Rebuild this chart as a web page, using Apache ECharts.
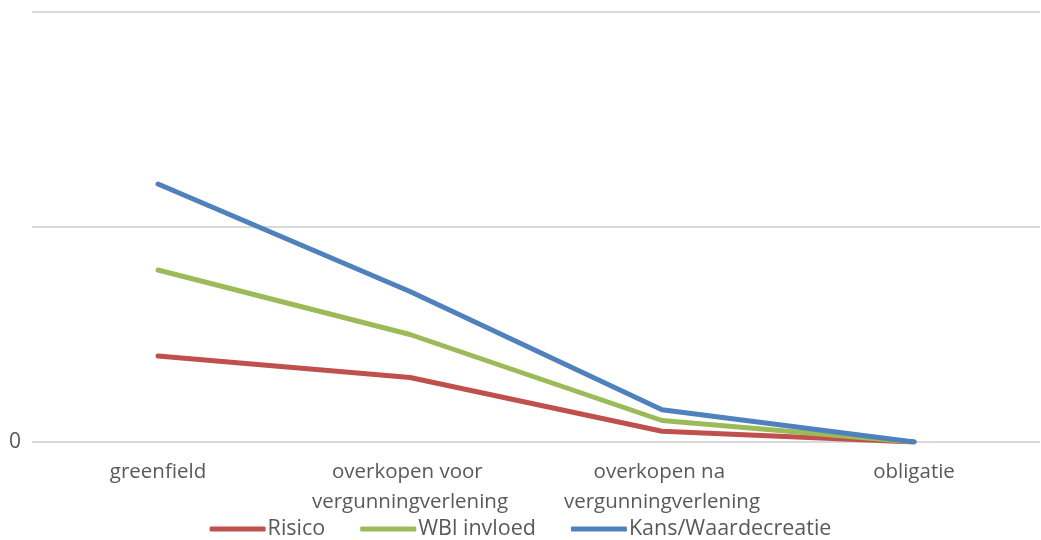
<!DOCTYPE html>
<html>
<head>
<meta charset="utf-8">
<script src="https://cdn.jsdelivr.net/npm/echarts@6/dist/echarts.min.js"></script>
<style>
  html, body { margin: 0; padding: 0; background: #fff; }
  #chart { width: 1041px; height: 540px; }
</style>
</head>
<body>
<div id="chart"></div>
<script>
const categories = ['greenfield', 'overkopen voor vergunningverlening', 'overkopen na vergunningverlening', 'obligatie'];
const risico = [4, 3, 0.5, 0];
const wbiInvloed = [8, 5, 1, 0];
const kansWaardecreatie = [12, 7, 1.5, 0];

const chart = echarts.init(document.getElementById('chart'));
const font = '"Open Sans", sans-serif';
const lineSeries = (name, data, color) => ({
  name, type: 'line', data,
  symbol: 'none',
  lineStyle: { width: 5, color, cap: 'round', join: 'round' },
  itemStyle: { color }
});

chart.setOption({
  animation: false,
  grid: { left: 32, right: 1, top: 12, bottom: 98 },
  legend: {
    bottom: -5,
    left: 'center',
    itemWidth: 56,
    itemHeight: 5,
    itemGap: 35,
    icon: 'roundRect',
    textStyle: { fontFamily: font, fontSize: 21.5, color: '#595959', padding: [0, 0, 0, -3] },
    data: ['Risico', 'WBl invloed', 'Kans/Waardecreatie']
  },
  xAxis: {
    type: 'category',
    data: categories,
    boundaryGap: true,
    axisLine: { show: false },
    axisTick: { show: false },
    axisLabel: {
      margin: 15,
      fontFamily: font, fontSize: 20.5, color: '#595959',
      width: 240, overflow: 'break', lineHeight: 30, interval: 0
    }
  },
  yAxis: {
    type: 'value',
    min: 0, max: 20, interval: 10,
    axisLine: { show: false },
    axisTick: { show: false },
    splitLine: { lineStyle: { color: '#d9d9d9', width: 2 } },
    axisLabel: {
      margin: 11,
      fontFamily: font, fontSize: 21, color: '#595959',
      formatter: v => (v === 0 ? '0' : '')
    }
  },
  series: [
    lineSeries('Risico', risico, '#C0504D'),
    lineSeries('WBl invloed', wbiInvloed, '#9BBB59'),
    lineSeries('Kans/Waardecreatie', kansWaardecreatie, '#4F81BD')
  ]
});
</script>
</body>
</html>
